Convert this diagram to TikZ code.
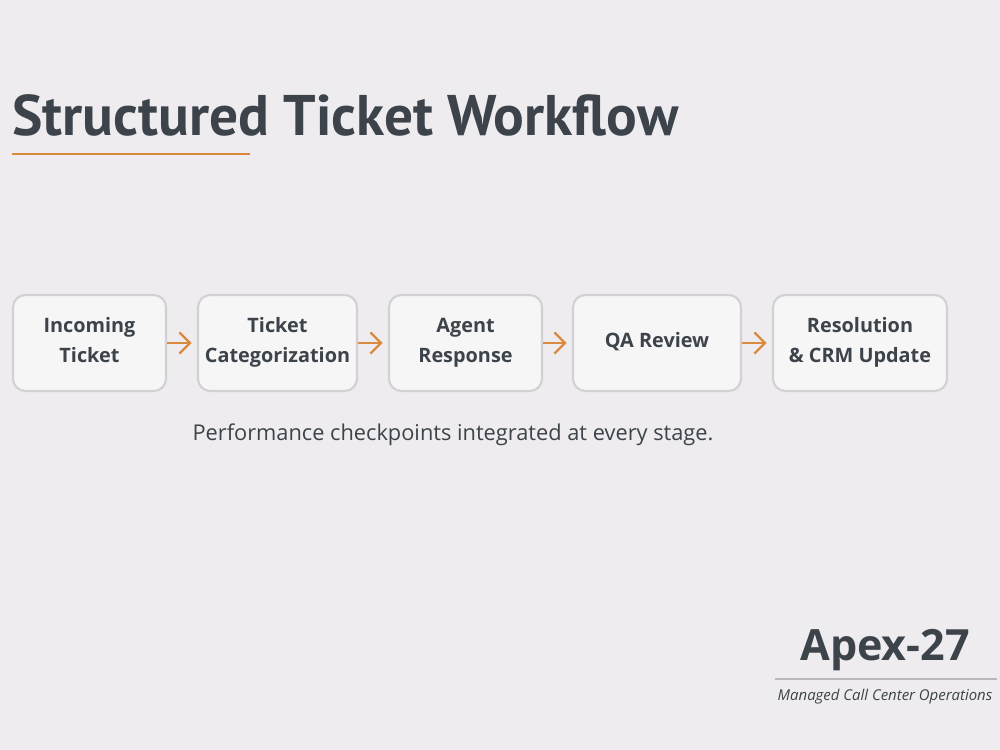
\documentclass[tikz,border=0pt]{standalone}
\usepackage{fontspec}
\setmainfont{Open Sans}
\newfontfamily\titlefont{PT Sans}
\usepackage{xcolor}
\usetikzlibrary{arrows.meta}

\definecolor{bgpage}{HTML}{EEECEE}
\definecolor{boxfill}{HTML}{F7F6F7}
\definecolor{boxline}{HTML}{D2D0D3}
\definecolor{inktext}{HTML}{3D434A}
\definecolor{accent}{HTML}{D98A3E}
\definecolor{rulegray}{HTML}{B8B7BA}

\begin{document}
\begin{tikzpicture}[x=0.02cm,y=-0.02cm,
    stage/.style={draw=boxline, line width=1.2pt, fill=boxfill, rounded corners=7pt,
        minimum height=96*0.02cm, align=center, text=inktext, text depth=3pt,
        inner xsep=2pt, font=\fontsize{11.3}{17}\selectfont\bfseries},
    flow/.style={draw=accent, line width=1.3pt, -{Straight Barb[length=6pt,width=12pt,line width=1.3pt]}}]
    \fill[bgpage] (0,0) rectangle (1000,750);
    \useasboundingbox (0,0) rectangle (1000,750);

    \node[anchor=base west, inner sep=0pt, text=inktext,
          font=\titlefont\fontsize{32.6}{36}\selectfont\bfseries] (title) at (12,135) {Structured Ticket Workflow};
    \draw[accent, line width=1pt] (12,154) -- (250,154);

    \node[stage, minimum width=153*0.02cm] (incoming) at (89.5,343) {Incoming\\Ticket};
    \node[stage, minimum width=159*0.02cm] (categ)    at (277.5,343) {Ticket\\Categorization};
    \node[stage, minimum width=153*0.02cm] (agent)    at (465.5,343) {Agent\\Response};
    \node[stage, minimum width=168*0.02cm] (qa)       at (657,343) {QA Review};
    \node[stage, minimum width=174*0.02cm] (resol)    at (860,343) {Resolution\\\& CRM Update};

    \draw[flow] (incoming.east) -- ([xshift=-3pt]categ.west);
    \draw[flow] (categ.east) -- ([xshift=-3pt]agent.west);
    \draw[flow] (agent.east) -- ([xshift=-3pt]qa.west);
    \draw[flow] (qa.east) -- ([xshift=-3pt]resol.west);

    \node[text=inktext, font=\fontsize{12.4}{15}\selectfont] (caption) at (453,435) {Performance checkpoints integrated at every stage.};

    \node[text=inktext, font=\fontsize{24.5}{28}\selectfont\bfseries] (brand) at (885,650) {Apex-27};
    \coordinate (ruleL) at (775,679);
    \coordinate (ruleR) at (997,679);
    \draw[rulegray, line width=0.6pt] (ruleL) -- (ruleR);
    \node[text=inktext, font=\fontsize{8.5}{10}\selectfont\itshape] (tagline) at (885,697) {Managed Call Center Operations};
\end{tikzpicture}
\end{document}
